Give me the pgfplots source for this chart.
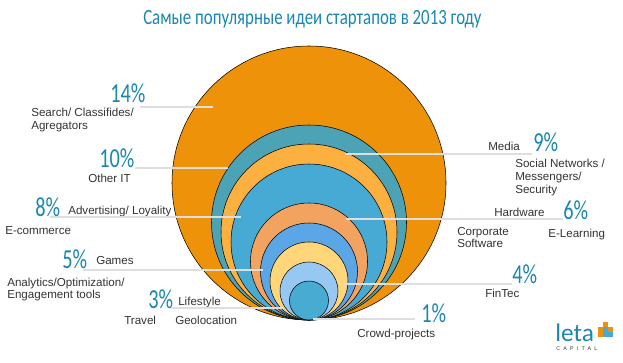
\documentclass[border=0pt]{standalone}
\usepackage{pgfplots}
\pgfplotsset{compat=1.18}
\usepackage{fontspec}
\setmainfont{Liberation Sans}
\newfontfamily\condfont[FakeStretch=0.74]{Carlito}
\newfontfamily\titlefont[FakeStretch=0.775]{Carlito}
\newfontfamily\logofont{Carlito}
\definecolor{cA}{HTML}{EE9209}
\definecolor{cB}{HTML}{4DA3B6}
\definecolor{cC}{HTML}{FBB03F}
\definecolor{cD}{HTML}{46AAD4}
\definecolor{cE}{HTML}{F3A360}
\definecolor{cF}{HTML}{5AA6E6}
\definecolor{cG}{HTML}{FFD679}
\definecolor{cH}{HTML}{96C8F3}
\definecolor{cI}{HTML}{47ABD2}
\definecolor{pctteal}{HTML}{1B87AE}
\definecolor{lbltext}{HTML}{333333}
\definecolor{leadgrey}{HTML}{DEDEDE}
\pgfplotsset{bubble/.style={scatter, only marks, mark=*,
  scatter/use mapped color={draw=none, fill=#1},
  visualization depends on={0.75*\thisrow{r} \as \rr},
  scatter/@pre marker code/.append style={/tikz/mark size=\rr}}}
\begin{document}
\begin{tikzpicture}[
  lbl/.style={anchor=base west, inner sep=0pt, font=\fontsize{8.7}{9.4}\selectfont, text=lbltext},
  pct/.style={anchor=base west, inner sep=0pt, font=\condfont\fontsize{20.6}{22}\selectfont, text=pctteal},
  lead/.style={line width=1.5pt, draw=leadgrey}]
\begin{axis}[width=467.25pt, height=272.25pt, scale only axis,
  xmin=0, xmax=623, ymin=0, ymax=363, y dir=reverse,
  axis lines=none, clip=false, point meta min=0, point meta max=1000]
\path (rel axis cs:0,0) rectangle (rel axis cs:1,1);
% share (%), circle centre and radius in reference pixels
\addplot[bubble=cA] table[row sep=\\] {x y r pct\\ 309 183 137 14\\};
\addplot[bubble=cB] table[row sep=\\] {x y r pct\\ 309 222.5 97.5 10\\};
\addplot[bubble=cC] table[row sep=\\] {x y r pct\\ 309 232 88 9\\};
\addplot[bubble=cD] table[row sep=\\] {x y r pct\\ 309 242 78 8\\};
\addplot[bubble=cE] table[row sep=\\] {x y r pct\\ 309 261.5 58.5 6\\};
\addplot[bubble=cF] table[row sep=\\] {x y r pct\\ 309 271.5 48.5 5\\};
\addplot[bubble=cG] table[row sep=\\] {x y r pct\\ 309 281 39 4\\};
\addplot[bubble=cH] table[row sep=\\] {x y r pct\\ 309 291 29 3\\};
\addplot[bubble=cI] table[row sep=\\] {x y r pct\\ 309 300.5 19.5 1\\};
% leader line end points
\coordinate (a1) at (axis cs:140,107); \coordinate (b1) at (axis cs:213,107);
\coordinate (a2) at (axis cs:135,168); \coordinate (b2) at (axis cs:228,168);
\coordinate (a3) at (axis cs:50,217);  \coordinate (b3) at (axis cs:241,217);
\coordinate (a4) at (axis cs:83,270);  \coordinate (b4) at (axis cs:263,270);
\coordinate (a5) at (axis cs:172,308); \coordinate (b5) at (axis cs:283,308);
\coordinate (a6) at (axis cs:313,319); \coordinate (b6) at (axis cs:415,319);
\coordinate (a7) at (axis cs:345,154); \coordinate (b7) at (axis cs:532,154);
\coordinate (a8) at (axis cs:346,219); \coordinate (b8) at (axis cs:563,219);
\coordinate (a9) at (axis cs:343,284); \coordinate (b9) at (axis cs:512,284);
% title
\node[anchor=base west, inner sep=0pt, text=pctteal, font=\titlefont\fontsize{16.3}{18}\selectfont] at (axis cs:143,25) {Самые популярные идеи стартапов в 2013 году};
% left labels
\node[pct] at (axis cs:110,103) {14\%};
\node[lbl] at (axis cs:31,117) {Search/ Classifides/};
\node[lbl] at (axis cs:31,129.5) {Agregators};
\node[pct] at (axis cs:99,167) {10\%};
\node[lbl] at (axis cs:88,182) {Other IT};
\node[pct] at (axis cs:35,216) {8\%};
\node[lbl] at (axis cs:68,214) {Advertising/ Loyality};
\node[lbl] at (axis cs:5,234) {E-commerce};
\node[pct] at (axis cs:62,268) {5\%};
\node[lbl] at (axis cs:96,264) {Games};
\node[lbl] at (axis cs:7,286) {Analytics/Optimization/};
\node[lbl] at (axis cs:7,298.5) {Engagement tools};
\node[pct] at (axis cs:148,308) {3\%};
\node[lbl] at (axis cs:178,305) {Lifestyle};
\node[lbl] at (axis cs:124,324) {Travel};
\node[lbl] at (axis cs:175,324) {Geolocation};
% right labels
\node[pct] at (axis cs:533,152) {9\%};
\node[lbl] at (axis cs:488,151) {Media};
\node[lbl] at (axis cs:515,168) {Social Networks /};
\node[lbl] at (axis cs:515,180.5) {Messengers/};
\node[lbl] at (axis cs:515,193) {Security};
\node[pct] at (axis cs:563,219) {6\%};
\node[lbl] at (axis cs:494,216) {Hardware};
\node[lbl] at (axis cs:457,235) {Corporate};
\node[lbl] at (axis cs:457,247.5) {Software};
\node[lbl] at (axis cs:548,237) {E-Learning};
\node[pct] at (axis cs:512,283) {4\%};
\node[lbl] at (axis cs:485,297) {FinTec};
\node[pct] at (axis cs:421,322) {1\%};
\node[lbl] at (axis cs:357,337) {Crowd-projects};
% logo
\node[anchor=base west, inner sep=0pt, text=pctteal, font=\logofont\fontsize{19}{20}\selectfont] at (axis cs:555,341) {leta};
\fill[cA] (axis cs:603,322) rectangle (axis cs:608,327);
\fill[cA] (axis cs:598,327) rectangle (axis cs:603,332);
\fill[cD] (axis cs:603,327) rectangle (axis cs:608,332);
\fill[cA] (axis cs:608,327) rectangle (axis cs:613,332);
\fill[cD] (axis cs:603,332) rectangle (axis cs:608,337);
\fill[cA] (axis cs:598,332) rectangle (axis cs:603,337);
\fill[cD] (axis cs:608,332) rectangle (axis cs:613,337);
\node[anchor=base west, inner sep=0pt, text=lbltext, font=\fontsize{4}{5}\selectfont\addfontfeature{LetterSpace=60}] at (axis cs:556,350) {CAPITAL};
\end{axis}
\foreach \i in {1,...,9} {\draw[lead] (a\i) -- (b\i);}
\end{tikzpicture}
\end{document}
